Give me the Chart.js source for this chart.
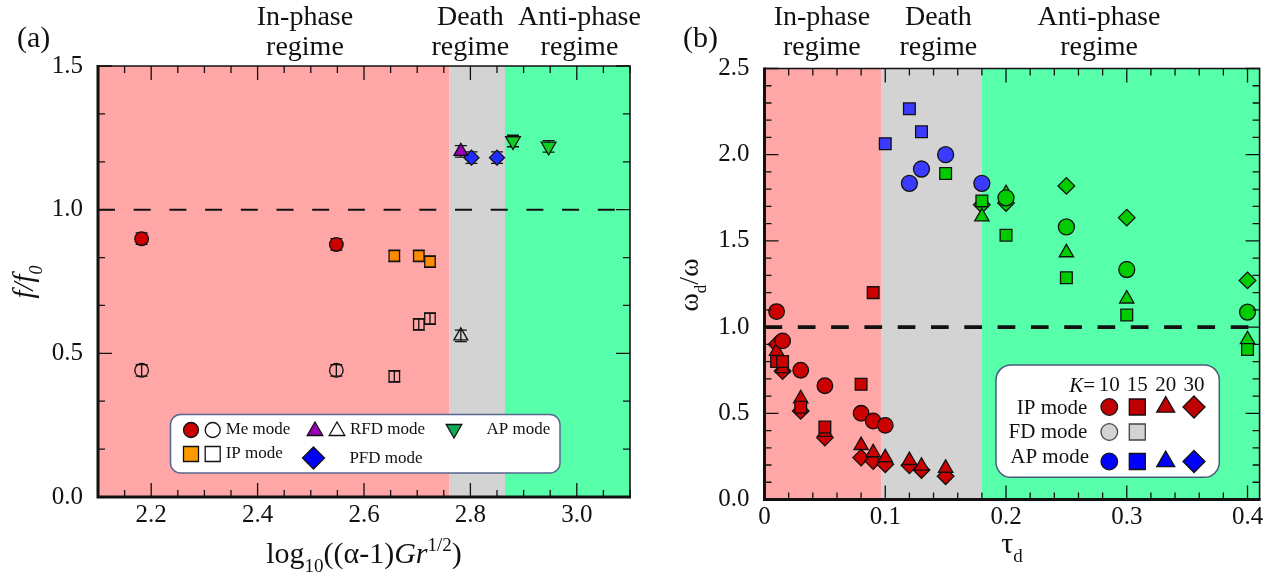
<!DOCTYPE html>
<html>
<head>
<meta charset="utf-8">
<script src="https://cdn.jsdelivr.net/npm/chart.js"></script>
<style>
  body { margin: 0; background: #fff; }
  #wrap { position: relative; width: 1277px; height: 578px; }
  canvas { position: absolute; top: 0; }
</style>
</head>
<body>
<div id="wrap">
  <canvas id="chartA" width="640" height="578" style="left:0"></canvas>
  <canvas id="chartB" width="637" height="578" style="left:640px"></canvas>
</div>
<script>
// ---- panel (a): f/f0 vs log10((alpha-1)Gr^1/2) ----
let meX = [2.182, 2.548];
let meFilledY = [0.899, 0.879];
let meOpenY = [0.441, 0.441];
let ipX = [2.657, 2.703, 2.724];
let ipFilledY = [0.839, 0.839, 0.819];
let ipOpenY = [0.42, 0.601, 0.621];
let rfdX = [2.782];
let rfdFilledY = [1.203];
let rfdOpenY = [0.561];
let pfdX = [2.802, 2.85];
let pfdY = [1.181, 1.181];
let apX = [2.88, 2.947];
let apY = [1.239, 1.22];
let errA = 0.02;
let regimesA = [2.1, 2.76, 2.865, 3.1];
let xLabelsA = [2.2, 2.4, 2.6, 2.8, 3.0];
let yLabelsA = [0.0, 0.5, 1.0, 1.5];

// ---- panel (b): omega_d/omega vs tau_d ----
let ip10X = [0.01, 0.015, 0.03, 0.05, 0.08, 0.09, 0.10];
let ip10Y = [1.09, 0.92, 0.75, 0.66, 0.50, 0.455, 0.43];
let ip15X = [0.01, 0.015, 0.03, 0.05, 0.08, 0.09];
let ip15Y = [0.80, 0.80, 0.535, 0.42, 0.668, 1.20];
let ip20X = [0.01, 0.015, 0.03, 0.05, 0.08, 0.09, 0.10, 0.12, 0.13, 0.15];
let ip20Y = [0.86, 0.76, 0.585, 0.39, 0.314, 0.272, 0.243, 0.227, 0.194, 0.182];
let ip30X = [0.01, 0.015, 0.03, 0.05, 0.08, 0.09, 0.10, 0.12, 0.13, 0.15];
let ip30Y = [0.90, 0.745, 0.514, 0.359, 0.243, 0.223, 0.204, 0.198, 0.171, 0.135];
let pfd10X = [0.12, 0.13, 0.15, 0.18];
let pfd10Y = [1.834, 1.917, 2.0, 1.834];
let pfd15X = [0.10, 0.12, 0.13];
let pfd15Y = [2.064, 2.266, 2.133];
let ap10X = [0.2, 0.25, 0.3, 0.4];
let ap10Y = [1.75, 1.581, 1.334, 1.087];
let ap15X = [0.15, 0.18, 0.2, 0.25, 0.3, 0.4];
let ap15Y = [1.891, 1.732, 1.533, 1.286, 1.07, 0.87];
let ap20X = [0.18, 0.2, 0.25, 0.3, 0.4];
let ap20Y = [1.64, 1.775, 1.432, 1.164, 0.928];
let ap30X = [0.18, 0.2, 0.25, 0.3, 0.4];
let ap30Y = [1.71, 1.72, 1.819, 1.635, 1.271];
let regimesB = [0, 0.097, 0.18, 0.41];
let xLabelsB = [0, 0.1, 0.2, 0.3, 0.4];
let yLabelsB = [0.0, 0.5, 1.0, 1.5, 2.0, 2.5];

const SERIF = '"Liberation Serif", "DejaVu Serif", serif';
const PINK = '#ffa6a6', GREY = '#d3d3d3', GREEN = '#57ffaa';
const RED = '#cc0000';

Chart.defaults.font.family = SERIF;
Chart.defaults.color = '#111';

function pts(xs, ys) {
  return xs.map((x, i) => ({x: x, y: ys[i]}));
}

function steps(min, max, step) {
  let out = [];
  let n = Math.floor((max - min) / step + 1e-9);
  for (let i = 0; i <= n; i++) out.push({value: min + i * step});
  return out;
}

function inList(v, list) {
  return list.some(l => Math.abs(l - v) < 1e-6);
}

function marker(ctx, shape, x, y, r, fill, stroke) {
  ctx.save();
  ctx.beginPath();
  if (shape === 'circle') {
    ctx.arc(x, y, r, 0, Math.PI * 2);
  } else if (shape === 'rect') {
    ctx.rect(x - r, y - r, 2 * r, 2 * r);
  } else if (shape === 'diamond') {
    ctx.moveTo(x, y - r); ctx.lineTo(x + r, y); ctx.lineTo(x, y + r); ctx.lineTo(x - r, y);
  } else if (shape === 'up' || shape === 'down') {
    let s = shape === 'up' ? 1 : -1;
    ctx.moveTo(x, y - s * r);
    ctx.lineTo(x + r * 0.866, y + s * r * 0.5);
    ctx.lineTo(x - r * 0.866, y + s * r * 0.5);
  }
  ctx.closePath();
  if (fill) { ctx.fillStyle = fill; ctx.fill(); }
  ctx.lineWidth = 1.3;
  ctx.strokeStyle = stroke || '#111';
  ctx.stroke();
  ctx.restore();
}

// text with plain / italic / sub / sup runs
function richText(ctx, parts, x, y, size, align) {
  const fontOf = p => (p[1].indexOf('i') >= 0 ? 'italic ' : '') +
    Math.round(p[1].indexOf('s') >= 0 ? size * 0.62 : size) + 'px ' + SERIF;
  let w = 0;
  parts.forEach(p => { ctx.font = fontOf(p); w += ctx.measureText(p[0]).width; });
  let cx = align === 'center' ? x - w / 2 : (align === 'right' ? x - w : x);
  ctx.textAlign = 'left';
  ctx.textBaseline = 'alphabetic';
  parts.forEach(p => {
    ctx.font = fontOf(p);
    let dy = p[1].indexOf('sub') >= 0 ? size * 0.3 : (p[1].indexOf('sup') >= 0 ? -size * 0.4 : 0);
    ctx.fillText(p[0], cx, y + dy);
    cx += ctx.measureText(p[0]).width;
  });
}

// shaded regimes behind the data
const regimePlugin = {
  id: 'regimes',
  beforeDatasetsDraw(chart, args, opts) {
    const {ctx, chartArea: a, scales: {x}} = chart;
    const cols = [PINK, GREY, GREEN];
    ctx.save();
    for (let i = 0; i < 3; i++) {
      let x0 = x.getPixelForValue(opts.bounds[i]);
      let x1 = x.getPixelForValue(opts.bounds[i + 1]);
      ctx.fillStyle = cols[i];
      ctx.fillRect(x0, a.top, x1 - x0, a.bottom - a.top);
    }
    ctx.restore();
  }
};

// error bars for panel (a)
const errorPlugin = {
  id: 'errbars',
  beforeDatasetsDraw(chart, args, opts) {
    if (!opts.err) return;
    const {ctx, scales: {x, y}} = chart;
    ctx.save();
    ctx.strokeStyle = '#111';
    ctx.lineWidth = 1.3;
    chart.data.datasets.forEach(ds => {
      if (!ds.errorBars) return;
      ds.data.forEach(p => {
        let px = x.getPixelForValue(p.x);
        let top = y.getPixelForValue(p.y + opts.err);
        let bot = y.getPixelForValue(p.y - opts.err);
        ctx.beginPath();
        ctx.moveTo(px, top); ctx.lineTo(px, bot);
        ctx.moveTo(px - 6, top); ctx.lineTo(px + 6, top);
        ctx.moveTo(px - 6, bot); ctx.lineTo(px + 6, bot);
        ctx.stroke();
      });
    });
    ctx.restore();
  }
};

// frame and inward tick marks
const framePlugin = {
  id: 'frame',
  afterDatasetsDraw(chart, args, opts) {
    const {ctx, chartArea: a, scales: {x, y}} = chart;
    ctx.save();
    ctx.strokeStyle = '#111';
    ctx.lineWidth = 1.3;
    ctx.beginPath();
    x.ticks.forEach(t => {
      let px = x.getPixelForValue(t.value);
      let len = t.label !== '' ? 14 : 7;
      ctx.moveTo(px, a.bottom); ctx.lineTo(px, a.bottom - len);
      ctx.moveTo(px, a.top); ctx.lineTo(px, a.top + len);
    });
    y.ticks.forEach(t => {
      let py = y.getPixelForValue(t.value);
      let len = t.label !== '' ? 14 : 7;
      ctx.moveTo(a.left, py); ctx.lineTo(a.left + len, py);
      ctx.moveTo(a.right, py); ctx.lineTo(a.right - len, py);
    });
    ctx.stroke();
    ctx.lineWidth = 1.6;
    ctx.beginPath();
    ctx.moveTo(a.left, a.top); ctx.lineTo(a.right, a.top); ctx.lineTo(a.right, a.bottom);
    ctx.stroke();
    ctx.lineWidth = 3;
    ctx.beginPath();
    ctx.moveTo(a.left, a.top - 1); ctx.lineTo(a.left, a.bottom); ctx.lineTo(a.right + 1, a.bottom);
    ctx.stroke();
    ctx.restore();
  },
  afterDraw(chart, args, opts) {
    const ctx = chart.ctx;
    ctx.save();
    ctx.fillStyle = '#111';
    opts.draw(ctx, chart);
    ctx.restore();
  }
};

function ds(label, data, shape, r, fill, extra) {
  let styles = {circle: 'circle', rect: 'rect', up: 'triangle', down: 'triangle', diamond: 'rectRot'};
  return Object.assign({
    label: label,
    data: data,
    showLine: false,
    pointStyle: styles[shape],
    rotation: shape === 'down' ? 180 : 0,
    pointRadius: r,
    pointBackgroundColor: fill || 'rgba(0,0,0,0)',
    pointBorderColor: '#111',
    pointBorderWidth: 1.3
  }, extra || {});
}

function dashLine(xmin, xmax, width, dash) {
  return {
    label: 'ref',
    data: [{x: xmin, y: 1}, {x: xmax, y: 1}],
    showLine: true,
    borderColor: '#111',
    borderWidth: width,
    borderDash: dash,
    pointRadius: 0
  };
}

function axisOpts(min, max, step, labels, fmt, fitSize, pad, horizontal) {
  return {
    type: 'linear',
    min: min,
    max: max,
    grid: {display: false},
    border: {display: false},
    afterBuildTicks: s => { s.ticks = steps(min, max, step); },
    afterFit: s => { if (horizontal) s.height = fitSize; else s.width = fitSize; },
    ticks: {
      autoSkip: false,
      maxRotation: 0,
      padding: pad,
      font: {size: 25, family: SERIF},
      color: '#111',
      callback: v => inList(v, labels) ? fmt(v) : ''
    }
  };
}

// ---------------- chart (a) ----------------
new Chart(document.getElementById('chartA'), {
  type: 'scatter',
  data: {
    datasets: [
      ds('Me filled', pts(meX, meFilledY), 'circle', 6.8, RED, {errorBars: true}),
      ds('Me open', pts(meX, meOpenY), 'circle', 6.8, null, {errorBars: true}),
      ds('IP filled', pts(ipX, ipFilledY), 'rect', 7.4, '#ff8c00', {errorBars: true}),
      ds('IP open', pts(ipX, ipOpenY), 'rect', 7.4, null, {errorBars: true}),
      ds('RFD filled', pts(rfdX, rfdFilledY), 'up', 8, '#9a00b8', {errorBars: true}),
      ds('RFD open', pts(rfdX, rfdOpenY), 'up', 8, null, {errorBars: true}),
      ds('PFD', pts(pfdX, pfdY), 'diamond', 7.5, '#1f2dff', {errorBars: true}),
      ds('AP', pts(apX, apY), 'down', 8.5, '#11cc22', {errorBars: true}),
      dashLine(2.1, 3.1, 2, [17, 18.7])
    ]
  },
  options: {
    responsive: false,
    animation: false,
    layout: {padding: {left: 38, right: 10, top: 66, bottom: 21}},
    plugins: {
      legend: {display: false},
      tooltip: {enabled: false},
      regimes: {bounds: regimesA},
      errbars: {err: errA},
      frame: {
        draw: (ctx, chart) => {
          const x = chart.scales.x;
          ctx.textAlign = 'center';
          ctx.textBaseline = 'alphabetic';
          ctx.font = '28px ' + SERIF;
          [[2.489, 'In-phase'], [2.80, 'Death'], [3.005, 'Anti-phase']].forEach(t => {
            ctx.fillText(t[1], x.getPixelForValue(t[0]), 25);
            ctx.fillText('regime', x.getPixelForValue(t[0]), 55);
          });
          ctx.textAlign = 'left';
          ctx.font = '30px ' + SERIF;
          ctx.fillText('(a)', 17, 47);
          richText(ctx, [['log', ''], ['10', 'sub'], ['((\u03b1-1)', ''], ['Gr', 'i'], ['1/2', 'sup'], [')', '']],
            (chart.chartArea.left + chart.chartArea.right) / 2, 563, 30, 'center');
          ctx.save();
          ctx.translate(33, 282);
          ctx.rotate(-Math.PI / 2);
          richText(ctx, [['f/f', 'i'], ['0', 'isub']], 0, 0, 29, 'center');
          ctx.restore();
          // legend box
          ctx.save();
          ctx.beginPath();
          ctx.roundRect(170.5, 414.5, 389.5, 58.5, 10);
          ctx.fillStyle = '#fff';
          ctx.fill();
          ctx.lineWidth = 1.5;
          ctx.strokeStyle = '#55688f';
          ctx.stroke();
          ctx.restore();
          marker(ctx, 'circle', 191, 430, 7.5, RED);
          marker(ctx, 'circle', 212.7, 430, 7.5, '#fff');
          marker(ctx, 'up', 315, 431, 9, '#9a00b8');
          marker(ctx, 'up', 337, 431, 9, '#fff');
          marker(ctx, 'down', 454, 429, 9, '#11aa55');
          marker(ctx, 'rect', 191, 454, 7.5, '#ff9900');
          marker(ctx, 'rect', 212.7, 454, 7.5, '#fff');
          marker(ctx, 'diamond', 313.5, 458, 11, '#0000ff');
          ctx.fillStyle = '#111';
          ctx.font = '17px ' + SERIF;
          ctx.textAlign = 'left';
          ctx.textBaseline = 'middle';
          ctx.fillText('Me mode', 225.7, 430);
          ctx.fillText('RFD mode', 350, 430);
          ctx.fillText('AP mode', 486.5, 430);
          ctx.fillText('IP mode', 225.7, 454);
          ctx.fillText('PFD mode', 349.4, 459);
        }
      }
    },
    scales: {
      x: axisOpts(2.1, 3.1, 0.05, xLabelsA, v => v.toFixed(1), 60, -5, true),
      y: axisOpts(0, 1.5, 0.5 / 3, yLabelsA, v => v.toFixed(1), 60, 7, false)
    }
  },
  plugins: [regimePlugin, errorPlugin, framePlugin]
});

// ---------------- chart (b) ----------------
const BLUE = '#3b3bff', APGREEN = '#00cc00';
new Chart(document.getElementById('chartB'), {
  type: 'scatter',
  data: {
    datasets: [
      ds('PFD K=10', pts(pfd10X, pfd10Y), 'circle', 8, BLUE),
      ds('AP K=10', pts(ap10X, ap10Y), 'circle', 8, APGREEN),
      ds('IP K=10', pts(ip10X, ip10Y), 'circle', 7.8, RED),
      ds('PFD K=15', pts(pfd15X, pfd15Y), 'rect', 8.3, BLUE),
      ds('AP K=15', pts(ap15X, ap15Y), 'rect', 8.3, APGREEN),
      ds('IP K=15', pts(ip15X, ip15Y), 'rect', 8.3, RED),
      ds('AP K=20', pts(ap20X, ap20Y), 'up', 8.3, APGREEN),
      ds('IP K=20', pts(ip20X, ip20Y), 'up', 8.3, RED),
      ds('AP K=30', pts(ap30X, ap30Y), 'diamond', 8.3, APGREEN),
      ds('IP K=30', pts(ip30X, ip30Y), 'diamond', 8.3, RED),
      dashLine(0, 0.41, 3.6, [17.7, 15.6])
    ]
  },
  options: {
    responsive: false,
    animation: false,
    layout: {padding: {left: 64.5, right: 17.4, top: 68.5, bottom: 18.5}},
    plugins: {
      legend: {display: false},
      tooltip: {enabled: false},
      regimes: {bounds: regimesB},
      errbars: {err: 0},
      frame: {
        draw: (ctx, chart) => {
          const x = chart.scales.x;
          ctx.textAlign = 'center';
          ctx.textBaseline = 'alphabetic';
          ctx.font = '28px ' + SERIF;
          [[0.0475, 'In-phase'], [0.144, 'Death'], [0.277, 'Anti-phase']].forEach(t => {
            ctx.fillText(t[1], x.getPixelForValue(t[0]), 25);
            ctx.fillText('regime', x.getPixelForValue(t[0]), 55);
          });
          ctx.textAlign = 'left';
          ctx.font = '30px ' + SERIF;
          ctx.fillText('(b)', 43, 47);
          richText(ctx, [['\u03c4', ''], ['d', 'sub']],
            (chart.chartArea.left + chart.chartArea.right) / 2, 553, 30, 'center');
          ctx.save();
          ctx.translate(58, 285);
          ctx.rotate(-Math.PI / 2);
          richText(ctx, [['\u03c9', ''], ['d', 'sub'], ['/\u03c9', '']], 0, 0, 28, 'center');
          ctx.restore();
          // legend box
          ctx.save();
          ctx.beginPath();
          ctx.roundRect(356, 365, 223.3, 112.3, 15);
          ctx.fillStyle = '#fff';
          ctx.fill();
          ctx.lineWidth = 1.5;
          ctx.strokeStyle = '#4a5a7a';
          ctx.stroke();
          ctx.restore();
          const cols = [469.3, 497.3, 525.7, 554];
          const shapes = ['circle', 'rect', 'up', 'diamond'];
          const rads = [8.3, 8, 10.4, 11];
          ctx.fillStyle = '#111';
          richText(ctx, [['K', 'i'], ['=', '']], 455, 392, 21, 'right');
          ctx.textBaseline = 'middle';
          ctx.font = '21px ' + SERIF;
          ctx.textAlign = 'center';
          ['10', '15', '20', '30'].forEach((k, i) => ctx.fillText(k, cols[i], 385));
          ctx.textAlign = 'right';
          ctx.fillText('IP mode', 447.3, 408);
          ctx.fillText('FD mode', 447.3, 432);
          ctx.fillText('AP mode', 449, 457);
          shapes.forEach((s, i) => marker(ctx, s, cols[i], 407, rads[i], '#c00000'));
          marker(ctx, 'circle', cols[0], 432, 8.3, '#d3d3d3', '#444');
          marker(ctx, 'rect', cols[1], 432, 8, '#d3d3d3', '#444');
          shapes.forEach((s, i) => marker(ctx, s, cols[i], 461.5, rads[i], '#0000ff'));
        }
      }
    },
    scales: {
      x: axisOpts(0, 0.41, 0.02, xLabelsB, v => v === 0 ? '0' : v.toFixed(1), 60, -5, true),
      y: axisOpts(0, 2.5, 0.1, yLabelsB, v => v.toFixed(1), 60, 7, false)
    }
  },
  plugins: [regimePlugin, errorPlugin, framePlugin]
});
</script>
</body>
</html>
